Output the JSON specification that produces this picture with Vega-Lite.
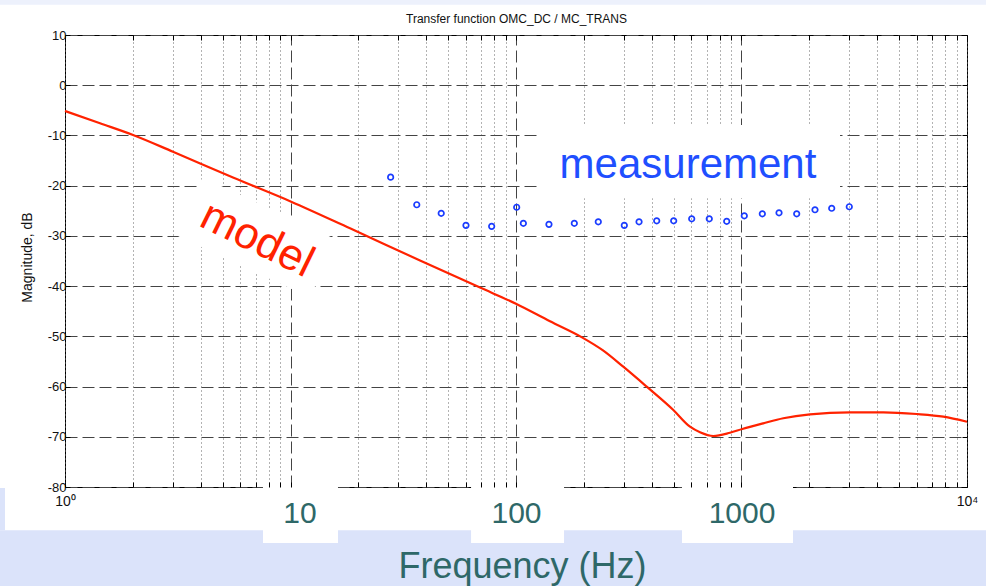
{
  "$schema": "https://vega.github.io/schema/vega-lite/v6.json",
  "autosize": "none",
  "width": 902,
  "height": 452,
  "padding": {"left": 65, "top": 35, "right": 19, "bottom": 99},
  "background": "#ffffff",
  "view": {"stroke": "#000000", "strokeWidth": 1, "fill": "#ffffff"},
  "config": {"font": "Liberation Sans"},
  "datasets": {
    "band": [
      {"x1": 0.3, "x2": 30000, "y1": -88.6, "y2": -115},
      {"x1": 0.3, "x2": 0.542, "y1": -80.2, "y2": -88.6}
    ],
    "topstrip": [
      {"x1": 0.3, "x2": 30000, "y1": 16.0, "y2": 22}
    ],
    "tabs": [
      {"x1": 7.55, "x2": 16.24, "y1": -79.75, "y2": -91.15},
      {"x1": 63.2, "x2": 163.3, "y1": -79.75, "y2": -91.15},
      {"x1": 544.6, "x2": 1692, "y1": -79.75, "y2": -91.15}
    ],
    "mbox": [
      {"x1": 124, "x2": 2735, "y1": -22.5, "y2": -7.9}
    ],
    "modelbox": [
      {"f": 7.05, "db": -30.3}
    ],
    "model": [
      {"f": 1, "db": -5.13},
      {"f": 1.43, "db": -7.58},
      {"f": 2.003, "db": -9.91},
      {"f": 3.012, "db": -13.24},
      {"f": 5.559, "db": -18.38},
      {"f": 10.07, "db": -23.19},
      {"f": 18.36, "db": -28.49},
      {"f": 37.53, "db": -34.9},
      {"f": 69.26, "db": -40.3},
      {"f": 100, "db": -43.5},
      {"f": 141.5, "db": -47.0},
      {"f": 196.2, "db": -50.2},
      {"f": 243.1, "db": -52.8},
      {"f": 299, "db": -56.05},
      {"f": 380, "db": -60.03},
      {"f": 498.5, "db": -64.67},
      {"f": 591, "db": -67.99},
      {"f": 654.6, "db": -69.1},
      {"f": 750, "db": -69.85},
      {"f": 889, "db": -69.19},
      {"f": 1008, "db": -68.45},
      {"f": 1249, "db": -67.32},
      {"f": 1532, "db": -66.32},
      {"f": 2013, "db": -65.53},
      {"f": 3028, "db": -65.13},
      {"f": 4256, "db": -65.13},
      {"f": 5984, "db": -65.47},
      {"f": 7852, "db": -66.0},
      {"f": 10000, "db": -67.0}
    ],
    "meas": [
      {"f": 27.8, "db": -18.3},
      {"f": 36.3, "db": -23.8},
      {"f": 46.6, "db": -25.5},
      {"f": 60.0, "db": -27.9},
      {"f": 78.0, "db": -28.1},
      {"f": 100.7, "db": -24.3},
      {"f": 107.8, "db": -27.5},
      {"f": 140, "db": -27.7},
      {"f": 181.4, "db": -27.5},
      {"f": 231.7, "db": -27.2},
      {"f": 302.2, "db": -27.9},
      {"f": 351.3, "db": -27.2},
      {"f": 420.7, "db": -27.0},
      {"f": 500.3, "db": -27.0},
      {"f": 601.4, "db": -26.6},
      {"f": 719.6, "db": -26.6},
      {"f": 859.9, "db": -27.1},
      {"f": 1029, "db": -26.0},
      {"f": 1237, "db": -25.6},
      {"f": 1467, "db": -25.4},
      {"f": 1757, "db": -25.6},
      {"f": 2118, "db": -24.8},
      {"f": 2512, "db": -24.5},
      {"f": 3006, "db": -24.2}
    ],
    "labels": [
      {"label": "model", "f": 7.1, "db": -30.8, "kind": "model"},
      {"label": "measurement", "f": 579, "db": -18.47, "kind": "measurement"}
    ]
  },
  "resolve": {"axis": {"x": "independent", "y": "independent"}},
  "layer": [
    {
      "data": {"name": "band"},
      "mark": {"type": "rect", "color": "#dbe3fa", "clip": false},
      "encoding": {
        "x": {"field": "x1", "type": "quantitative", "scale": {"type": "log", "domain": [1, 10000], "nice": false}, "axis": null},
        "x2": {"field": "x2"},
        "y": {"field": "y1", "type": "quantitative", "scale": {"domain": [-80, 10], "nice": false, "zero": false}, "axis": null},
        "y2": {"field": "y2"}
      }
    },
    {
      "data": {"name": "topstrip"},
      "mark": {"type": "rect", "color": "#edf1fc", "clip": false},
      "encoding": {
        "x": {"field": "x1", "type": "quantitative", "scale": {"type": "log", "domain": [1, 10000], "nice": false}, "axis": null},
        "x2": {"field": "x2"},
        "y": {"field": "y1", "type": "quantitative", "scale": {"domain": [-80, 10], "nice": false, "zero": false}, "axis": null},
        "y2": {"field": "y2"}
      }
    },
    {
      "data": {"name": "tabs"},
      "mark": {"type": "rect", "color": "#ffffff", "clip": false},
      "encoding": {
        "x": {"field": "x1", "type": "quantitative", "scale": {"type": "log", "domain": [1, 10000], "nice": false}, "axis": null},
        "x2": {"field": "x2"},
        "y": {"field": "y1", "type": "quantitative", "scale": {"domain": [-80, 10], "nice": false, "zero": false}, "axis": null},
        "y2": {"field": "y2"}
      }
    },
    {
      "data": {"name": "mbox"},
      "mark": {"type": "rect", "color": "#ffffff"},
      "encoding": {
        "x": {"field": "x1", "type": "quantitative", "scale": {"type": "log", "domain": [1, 10000], "nice": false}, "axis": null},
        "x2": {"field": "x2"},
        "y": {"field": "y1", "type": "quantitative", "scale": {"domain": [-80, 10], "nice": false, "zero": false}, "axis": null},
        "y2": {"field": "y2"}
      }
    },
    {
      "data": {"name": "modelbox"},
      "mark": {"type": "point", "shape": "M-1,-0.43L1,-0.43L1,0.43L-1,0.43Z", "size": 21904, "angle": 25, "filled": true, "fill": "#ffffff", "strokeWidth": 0, "opacity": 1},
      "encoding": {
        "x": {"field": "f", "type": "quantitative", "scale": {"type": "log", "domain": [1, 10000], "nice": false}, "axis": null},
        "y": {"field": "db", "type": "quantitative", "scale": {"domain": [-80, 10], "nice": false, "zero": false}, "axis": null}
      }
    },
    {
      "data": {"name": "model"},
      "mark": {"type": "line", "color": "#ff2200", "strokeWidth": 2.2, "interpolate": "monotone"},
      "encoding": {
        "x": {
          "field": "f", "type": "quantitative",
          "scale": {"type": "log", "domain": [1, 10000], "nice": false},
          "axis": {
            "orient": "bottom",
            "zindex": 1,
            "values": [1,2,3,4,5,6,7,8,9,10,20,30,40,50,60,70,80,90,100,200,300,400,500,600,700,800,900,1000,2000,3000,4000,5000,6000,7000,8000,9000,10000],
            "grid": false,
            "domain": false,
            "ticks": true,
            "tickSize": -5,
            "tickColor": "#000000",
            "labelExpr": "datum.value == 1 ? '10⁰' : datum.value == 10000 ? '10⁴' : (datum.value == 10 || datum.value == 100 || datum.value == 1000) ? format(datum.value, 'd') : ''",
            "labelFlush": false,
            "labelOverlap": false,
            "labelBaseline": "alphabetic",
            "labelFont": "Liberation Sans",
            "labelFontSize": {"condition": {"test": "datum.value == 1 || datum.value == 10000", "value": 14}, "value": 30},
            "labelColor": {"condition": {"test": "datum.value == 1 || datum.value == 10000", "value": "#111111"}, "value": "#2e6868"},
            "labelPadding": {"condition": {"test": "datum.value == 1 || datum.value == 10000", "value": 23}, "value": 40},
            "labelOffset": {"condition": {"test": "datum.value == 10", "value": 9}, "value": 0},
            "title": "Frequency (Hz)",
            "titleFont": "Liberation Sans",
            "titleFontSize": 36,
            "titleFontWeight": "normal",
            "titleColor": "#2e6868",
            "titleX": 457,
            "titleY": 90,
            "titleBaseline": "alphabetic",
            "titleAlign": "center"
          }
        },
        "y": {
          "field": "db", "type": "quantitative",
          "scale": {"domain": [-80, 10], "nice": false, "zero": false},
          "axis": {
            "orient": "left",
            "values": [-80,-70,-60,-50,-40,-30,-20,-10,0,10],
            "grid": true,
            "gridColor": "#444444",
            "gridDash": [12, 5],
            "gridWidth": 1,
            "domain": false,
            "ticks": true,
            "tickSize": -5,
            "tickColor": "#000000",
            "labelExpr": "(datum.value < 0 ? '-' : '') + abs(datum.value)",
            "labelFont": "Liberation Sans",
            "labelFontSize": 13,
            "labelColor": "#111111",
            "labelPadding": 4,
            "labelFlush": false,
            "title": "Magnitude, dB",
            "titleFont": "Liberation Sans",
            "titleFontSize": 14,
            "titleFontWeight": "normal",
            "titleColor": "#111111",
            "titleX": -34,
            "titleY": 222,
            "titleAngle": -90,
            "titleAlign": "center",
            "titleBaseline": "alphabetic"
          }
        }
      }
    },
    {
      "data": {"name": "meas"},
      "mark": {"type": "point", "shape": "circle", "filled": false, "color": "#1a3cff", "opacity": 1, "size": 30, "strokeWidth": 1.7},
      "encoding": {
        "x": {
          "field": "f", "type": "quantitative",
          "scale": {"type": "log", "domain": [1, 10000], "nice": false},
          "axis": {
            "orient": "top",
            "values": [1,2,3,4,5,6,7,8,9,10,20,30,40,50,60,70,80,90,100,200,300,400,500,600,700,800,900,1000,2000,3000,4000,5000,6000,7000,8000,9000,10000],
            "grid": true,
            "gridColor": {"condition": {"test": "datum.value == 10 || datum.value == 100 || datum.value == 1000", "value": "#444444"}, "value": "#666666"},
            "gridDash": {"condition": {"test": "datum.value == 10 || datum.value == 100 || datum.value == 1000", "value": [12, 5]}, "value": [1, 3]},
            "gridWidth": 1,
            "domain": false,
            "labels": false,
            "ticks": true,
            "tickSize": -5,
            "tickColor": "#000000",
            "title": "Transfer function OMC_DC / MC_TRANS",
            "titleFont": "Liberation Sans",
            "titleFontSize": 12,
            "titleFontWeight": "normal",
            "titleColor": "#111111",
            "titleX": 451,
            "titleY": -13,
            "titleBaseline": "alphabetic",
            "titleAlign": "center"
          }
        },
        "y": {
          "field": "db", "type": "quantitative",
          "scale": {"domain": [-80, 10], "nice": false, "zero": false},
          "axis": {
            "orient": "right",
            "values": [-80,-70,-60,-50,-40,-30,-20,-10,0,10],
            "grid": false,
            "domain": false,
            "labels": false,
            "ticks": true,
            "tickSize": -5,
            "tickColor": "#000000",
            "title": null
          }
        }
      }
    },
    {
      "data": {"name": "labels"},
      "transform": [{"filter": "datum.kind == 'model'"}],
      "mark": {"type": "text", "font": "Liberation Sans", "fontSize": 44, "angle": 26, "align": "center", "baseline": "middle", "color": "#ff2200"},
      "encoding": {
        "x": {"field": "f", "type": "quantitative", "scale": {"type": "log", "domain": [1, 10000], "nice": false}, "axis": null},
        "y": {"field": "db", "type": "quantitative", "scale": {"domain": [-80, 10], "nice": false, "zero": false}, "axis": null},
        "text": {"field": "label"}
      }
    },
    {
      "data": {"name": "labels"},
      "transform": [{"filter": "datum.kind == 'measurement'"}],
      "mark": {"type": "text", "font": "Liberation Sans", "fontSize": 42, "align": "center", "baseline": "alphabetic", "color": "#1f4fff"},
      "encoding": {
        "x": {"field": "f", "type": "quantitative", "scale": {"type": "log", "domain": [1, 10000], "nice": false}, "axis": null},
        "y": {"field": "db", "type": "quantitative", "scale": {"domain": [-80, 10], "nice": false, "zero": false}, "axis": null},
        "text": {"field": "label"}
      }
    }
  ]
}
